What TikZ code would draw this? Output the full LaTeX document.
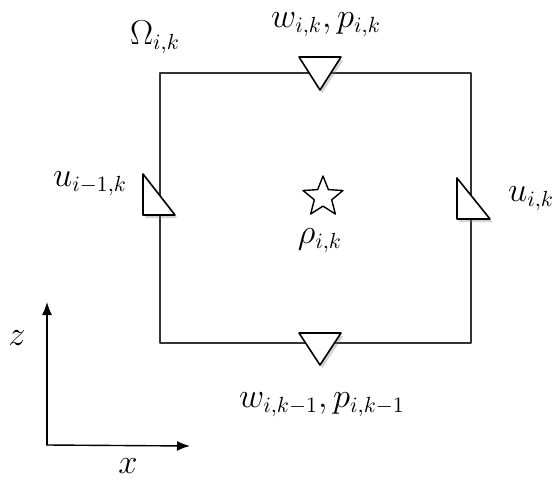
\documentclass[tikz,border=0pt]{standalone}
\usetikzlibrary{shapes.geometric,shadows,arrows.meta}

\begin{document}
\begin{tikzpicture}[x={(0.5pt,0pt)}, y={(0pt,-0.5pt)},
    line join=round, line cap=round,
    every node/.style={font=\fontsize{16}{19}\selectfont},
    cellline/.style={line width=0.7pt, black!80},
    marker/.style={fill=white, draw=black, line width=0.8pt,
        drop shadow={opacity=0.35, shadow xshift=1.2pt, shadow yshift=-1.5pt}},
    axis/.style={line width=0.7pt, -{Latex[length=6.5pt,width=5pt]}}]

    % 余白
    \useasboundingbox (0,0) rectangle (556,481);

    % セルの頂点
    \coordinate (SW) at (160,343);
    \coordinate (NE) at (471,73);

    % セル
    \draw [cellline] (SW) rectangle (NE);

    % 速度の点（上下）
    \draw [marker] (299,57) -- (341,57) -- (320,90) -- cycle;
    \draw [marker] (299,333) -- (341,333) -- (320,365) -- cycle;

    % 速度の点（左右）
    \draw [marker] (143,174) -- (143,215) -- (175,215) -- cycle;
    \draw [marker] (457,178) -- (457,219) -- (490,219) -- cycle;

    % 密度の点
    \node [star, star points=5, star point ratio=2.3, minimum size=21pt,
        inner sep=0pt, draw, line width=0.7pt, fill=white] (rho) at (323,197) {};

    % ラベル
    \node (omega) at (155,37) {$\Omega_{i,k}$};
    \node (wtop) at (326,25) {$w_{i,k}, p_{i,k}$};
    \node (wbot) at (322,405) {$w_{i,k-1}, p_{i,k-1}$};
    \node (uleft) at (90,184) {$u_{i-1,k}$};
    \node (uright) at (531,199) {$u_{i,k}$};
    \node (rholab) at (320,241) {$\rho_{i,k}$};

    % 座標軸
    \coordinate (O) at (47,445);
    \coordinate (Zt) at (47,302);
    \coordinate (Xt) at (190,446);
    \draw [axis] (O) -- (Zt);
    \draw [axis] (O) -- (Xt);
    \node (zlab) at (17,338) {$z$};
    \node (xlab) at (128,466) {$x$};

\end{tikzpicture}
\end{document}
